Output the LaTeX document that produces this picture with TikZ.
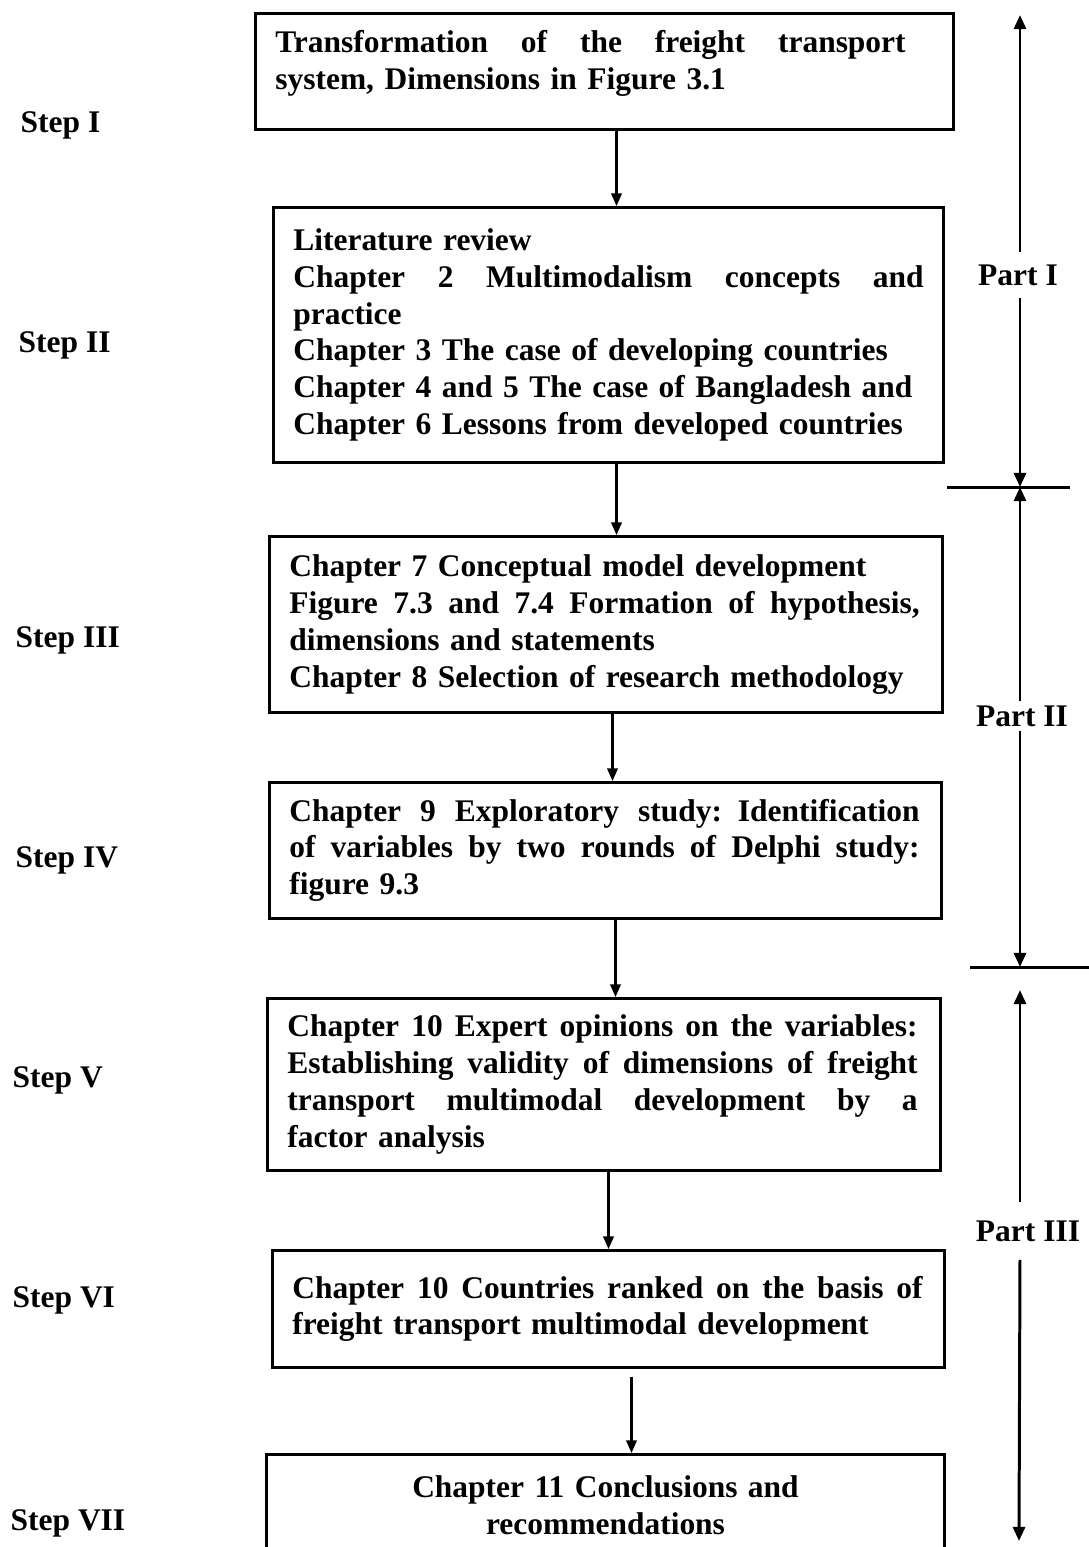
\documentclass[tikz,border=0pt]{standalone}
\usepackage{fontspec}
\setmainfont{Liberation Serif}
\usetikzlibrary{arrows.meta}

\newcommand{\spreadline}[1]{\leavevmode\hbox to 6.3cm{\spaceskip=\fontdimen2\font plus 1fil\relax #1}}

\begin{document}
\begin{tikzpicture}[x=0.01cm,y=-0.01cm,
    txt/.style={font=\fontsize{8.95pt}{10.5pt}\selectfont\bfseries},
    chapbox/.style={txt,draw,line width=0.75pt,inner xsep=0.2cm,inner ysep=0pt,anchor=north west},
    steplabel/.style={txt,anchor=west,inner xsep=0pt},
    arr/.style={line width=0.6pt,-{Triangle[length=3.6pt,width=3pt]}},
    partarr/.style={line width=0.85pt,-{Triangle[length=4pt,width=3.4pt]}}]
    \useasboundingbox (0,0) rectangle (1089,1547);
    \node[chapbox,text width=6.58cm,minimum height=1.16cm] (b1) at (254,12)
      {\spreadline{Transformation of the freight transport}\\system, Dimensions in Figure 3.1\\[-0.14cm]\mbox{}};
    \node[chapbox,text width=6.30cm,minimum height=2.55cm] (b2) at (272,206)
      {Literature review\\\spreadline{Chapter 2 Multimodalism concepts and}\\practice\\Chapter 3 The case of developing countries\\Chapter 4 and 5 The case of Bangladesh and\\Chapter 6 Lessons from developed countries};
    \node[chapbox,text width=6.33cm,minimum height=1.76cm] (b3) at (268,535)
      {Chapter 7 Conceptual model development\\\spreadline{Figure 7.3 and 7.4 Formation of hypothesis,}\\dimensions and statements\\Chapter 8 Selection of research methodology};
    \node[chapbox,text width=6.32cm,minimum height=1.36cm] (b4) at (268,781)
      {\spreadline{Chapter 9 Exploratory study: Identification}\\\spreadline{of variables by two rounds of Delphi study:}\\figure 9.3};
    \node[chapbox,text width=6.33cm,minimum height=1.72cm] (b5) at (266,997)
      {\spreadline{Chapter 10 Expert opinions on the variables:}\\\spreadline{Establishing validity of dimensions of freight}\\\spreadline{transport multimodal development by a}\\factor analysis};
    \node[chapbox,text width=6.32cm,minimum height=1.17cm] (b6) at (271,1249)
      {\spreadline{Chapter 10 Countries ranked on the basis of}\\freight transport multimodal development};
    \node[chapbox,text width=6.38cm,minimum height=1.02cm,align=center] (b7) at (265,1453)
      {Chapter 11 Conclusions and\\recommendations};

    \draw[arr] (b1.south) ++(12,0) coordinate (c1) -- (c1 |- b2.north);
    \draw[arr] (b2.south) ++(8,0) coordinate (c2) -- (c2 |- b3.north);
    \draw[arr] (b3.south) ++(6.5,0) coordinate (c3) -- (c3 |- b4.north);
    \draw[arr] (b4.south) ++(10,0) coordinate (c4) -- (c4 |- b5.north);
    \draw[arr] (b5.south) ++(4.5,0) coordinate (c5) -- (c5 |- b6.north);
    \draw[arr] (b6.south) ++(23,8) coordinate (c6) -- (c6 |- b7.north);

    \node[steplabel] (s1) at (20,125) {Step I};
    \node[steplabel] (s2) at (18,345) {Step II};
    \node[steplabel] (s3) at (15,640) {Step III};
    \node[steplabel] (s4) at (15,860) {Step IV};
    \node[steplabel] (s5) at (12,1080) {Step V};
    \node[steplabel] (s6) at (12,1300) {Step VI};
    \node[steplabel] (s7) at (10,1523) {Step VII};

    \node[txt] (p1) at (1018,275) {Part I};
    \node[txt,inner ysep=1pt] (p2) at (1022,716) {Part II};
    \node[txt,inner ysep=5pt] (p3) at (1028,1231) {Part III};

    \coordinate (top1) at (1020,15);
    \coordinate (cut1) at (1020,487);
    \coordinate (cut2) at (1020,967);
    \coordinate (top3) at (1020,990);
    \coordinate (bot3) at (1019,1541);
    \draw[partarr] (p1.north -| top1) -- (top1);
    \draw[partarr] (p1.south -| top1) -- (cut1);
    \draw[partarr] (p2.north -| top1) -- (cut1);
    \draw[partarr] (p2.south -| top1) -- (cut2);
    \draw[partarr] (p3.north -| top1) -- (top3);
    \draw[partarr] (p3.south -| top1) -- (bot3);
    \draw[line width=0.85pt] (cut1) ++(-73,0) -- ++(123,0);
    \draw[line width=0.85pt] (cut2) ++(-50,0) -- ++(119,0);
  \end{tikzpicture}
\end{document}
